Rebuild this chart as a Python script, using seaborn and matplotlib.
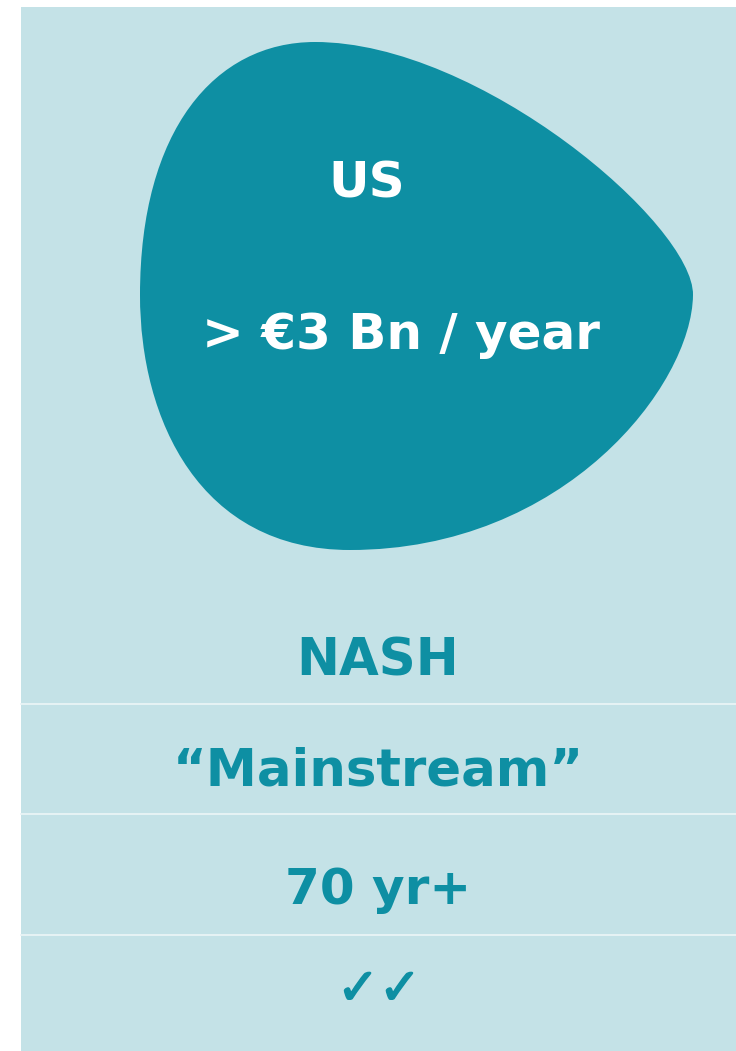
import numpy as np
import matplotlib.pyplot as plt
import seaborn as sns
from matplotlib.path import Path
from matplotlib.patches import PathPatch
import matplotlib.patheffects as pe

# panel content
region = "US"
market = "> €3 Bn / year"
rows = ["NASH", "\u201cMainstream\u201d", "70 yr+", "\u2713\u2713"]
row_base = [676, 786, 904, 1004]
separators = [704, 814, 935]

panel_color = "#C4E2E7"
teal = "#0E8FA3"

sns.set_theme(style="white")
plt.rcParams['font.family'] = ['DejaVu Sans']

fig = plt.figure(figsize=(7.36, 10.51), dpi=100)
ax = fig.add_axes([0, 0, 1, 1])
ax.set_xlim(0, 736)
ax.set_ylim(1051, 0)
ax.axis('off')

# background panel
ax.add_patch(plt.Rectangle((21, 7), 715, 1044, color=panel_color, lw=0))

# blob shape
verts = [(315, 42),
         (480, 42), (694, 225), (693, 295),
         (692, 385), (565, 550), (350, 550),
         (200, 550), (140, 420), (140, 295),
         (140, 130), (215, 42), (315, 42)]
codes = [Path.MOVETO] + [Path.CURVE4] * 12
ax.add_patch(PathPatch(Path(verts, codes), facecolor=teal, lw=0))

ax.text(367, 198, region, color="white", fontsize=36, fontweight="bold",
        ha="center", va="baseline")
ax.text(401, 349, market, color="white", fontsize=36, fontweight="bold",
        ha="center", va="baseline")

for y in separators:
    ax.plot([21, 736], [y, y], color="#E6F3F5", lw=1.4)

for label, y in zip(rows, row_base):
    if "\u2713" in label:
        ax.text(379, y, label, color=teal, fontsize=36, fontweight="bold",
                ha="center", va="baseline",
                path_effects=[pe.withStroke(linewidth=1.2, foreground=teal)])
    else:
        fs = 36 if label.startswith("70") else 37
        ax.text(378, y, label, color=teal, fontsize=fs, fontweight="bold",
                ha="center", va="baseline")

fig.savefig("out.png", dpi=100)
